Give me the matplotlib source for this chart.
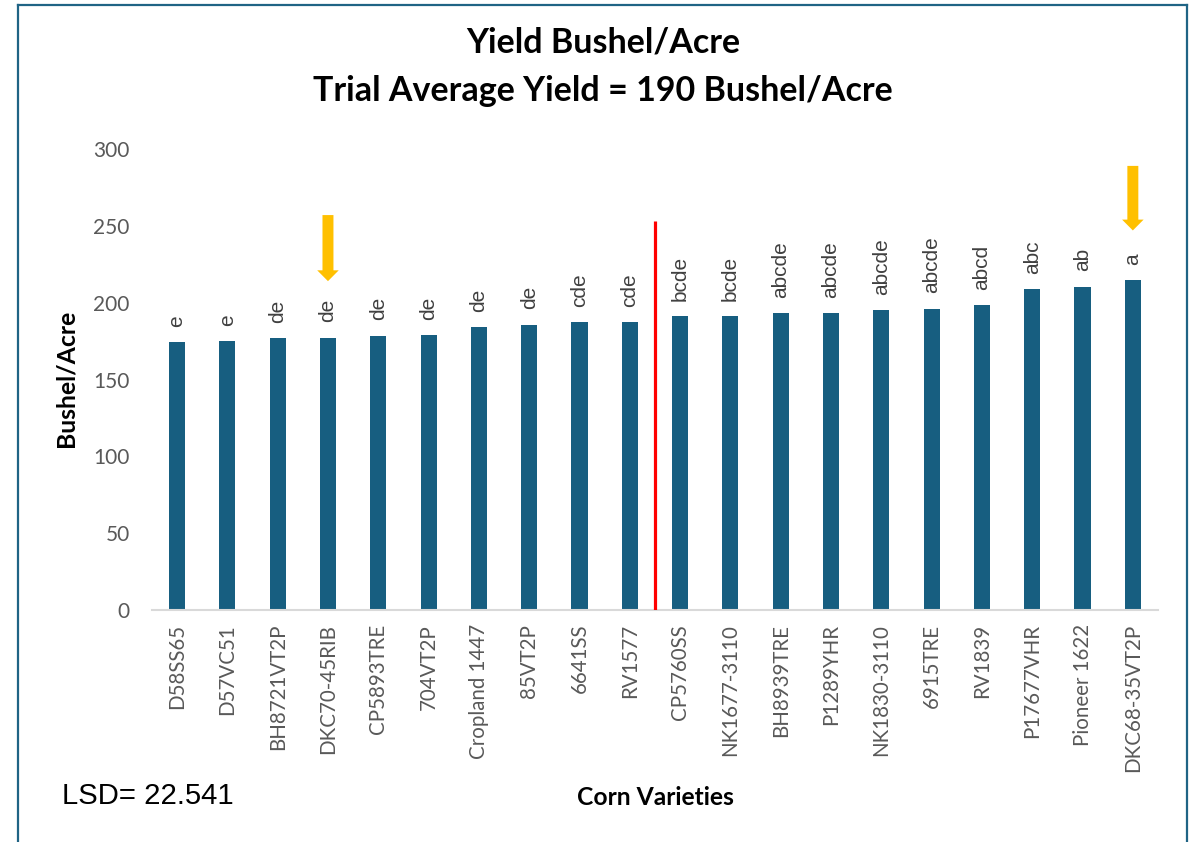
import matplotlib
matplotlib.use("Agg")
import matplotlib.pyplot as plt
from matplotlib.patches import FancyArrowPatch
from matplotlib.lines import Line2D

# ---- data ----
varieties = ["D58SS65", "D57VC51", "BH8721VT2P", "DKC70-45RIB", "CP5893TRE",
             "704VT2P", "Cropland 1447", "85VT2P", "6641SS", "RV1577",
             "CP5760SS", "NK1677-3110", "BH8939TRE", "P1289YHR", "NK1830-3110",
             "6915TRE", "RV1839", "P17677VHR", "Pioneer 1622", "DKC68-35VT2P"]
yields = [174.4, 175.0, 176.8, 177.2, 178.5, 179.0, 184.0, 185.7, 187.1, 187.4,
          191.1, 191.1, 193.3, 193.3, 195.0, 196.2, 198.3, 208.9, 210.4, 214.5]
letters = ["e", "e", "de", "de", "de", "de", "de", "de", "cde", "cde",
           "bcde", "bcde", "abcde", "abcde", "abcde", "abcde", "abcd", "abc", "ab", "a"]
yticks = [0, 50, 100, 150, 200, 250, 300]
title_lines = ["Yield Bushel/Acre", "Trial Average Yield = 190 Bushel/Acre"]
lsd_text = "LSD= 22.541"
divider_pos = 9.5
divider_top = 253
arrow_idx = [3, 19]
arrow_top = [257, 289]
arrow_tip = [214, 247]

W, H = 1191, 842
fig = plt.figure(figsize=(W / 100, H / 100), dpi=100)
fig.patch.set_facecolor("white")

ax = fig.add_axes([151.9 / W, (H - 610) / H, (1158 - 151.9) / W, (610 - 149) / H])
x = list(range(len(varieties)))
ax.bar(x, yields, width=0.32, color="#175E80", zorder=2)
ax.set_xlim(-0.5, len(varieties) - 0.5)
ax.set_ylim(0, 300)
ax.set_yticks(yticks)
ax.set_xticks(x)
ax.set_xticklabels(varieties, rotation=90, family="Lato", fontsize=14.8, color="#595959")
ax.set_yticklabels([str(t) for t in yticks], family="Lato", fontsize=15, color="#595959")
ax.tick_params(axis="x", length=0, pad=10)
ax.tick_params(axis="y", length=0, pad=16)
for s in ["left", "right", "top"]:
    ax.spines[s].set_visible(False)
ax.spines["bottom"].set_color("#D9D9D9")
ax.spines["bottom"].set_linewidth(1.5)

for i, (v, lab) in enumerate(zip(yields, letters)):
    ax.annotate(lab, xy=(i, v), xytext=(0, 11), textcoords="offset points",
                rotation=90, ha="center", va="bottom",
                family="Liberation Sans", fontsize=15, color="#404040")

ax.plot([divider_pos, divider_pos], [0, divider_top], color="#FF0000", lw=2.3, zorder=3,
        solid_capstyle="butt")

for i, top, tip in zip(arrow_idx, arrow_top, arrow_tip):
    arr = FancyArrowPatch((i, top), (i, tip),
                          arrowstyle="simple,head_width=15.5,head_length=7.8,tail_width=7.9",
                          mutation_scale=1, shrinkA=0, shrinkB=0,
                          color="#FFC000", lw=0, zorder=4)
    ax.add_patch(arr)

# titles
fig.text(603 / W, 1 - 53 / H, title_lines[0], ha="center", va="baseline",
         family="Lato", fontweight="bold", fontsize=24.5, color="black")
fig.text(603 / W, 1 - 101 / H, title_lines[1], ha="center", va="baseline",
         family="Lato", fontweight="bold", fontsize=24.5, color="black")
fig.text(655.5 / W, 1 - 805 / H, "Corn Varieties", ha="center", va="baseline",
         family="Lato", fontweight="bold", fontsize=17.7, color="black")
fig.text(78 / W, 1 - 378 / H, "Bushel/Acre", ha="right", va="center", rotation=90,
         family="Lato", fontweight="bold", fontsize=17.8, color="black")
fig.text(62 / W, 1 - 804 / H, lsd_text, ha="left", va="baseline",
         family="Liberation Sans", fontsize=21.1, color="black")

# border
bc = "#1F6485"
fig.add_artist(Line2D([18 / W, 18 / W], [0, 1 - 5 / H], color=bc, lw=1.6))
fig.add_artist(Line2D([18 / W, 1187 / W], [1 - 5 / H, 1 - 5 / H], color=bc, lw=1.6))
fig.add_artist(Line2D([1187 / W, 1187 / W], [0, 1 - 5 / H], color=bc, lw=1.6))

fig.savefig("out.png", dpi=100)
